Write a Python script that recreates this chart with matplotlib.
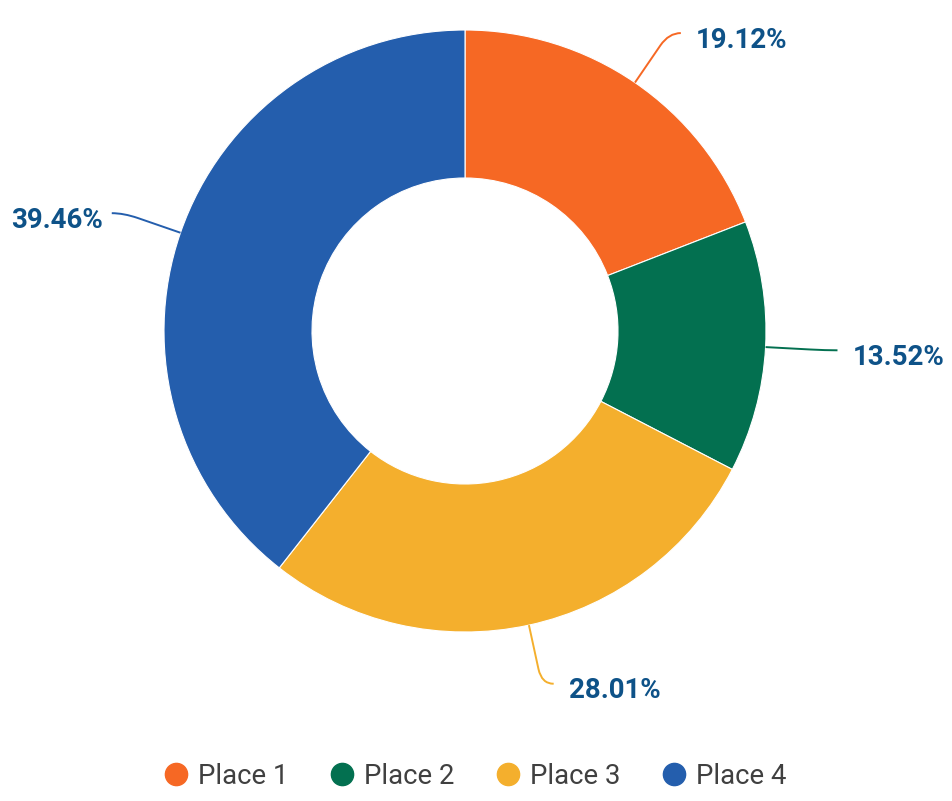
import numpy as np
import matplotlib
matplotlib.use("Agg")
import matplotlib.pyplot as plt
from matplotlib.path import Path
from matplotlib.patches import PathPatch
from matplotlib.lines import Line2D

categories = ["Place 1", "Place 2", "Place 3", "Place 4"]
values = [19.12, 13.52, 28.01, 39.46]
labels = ["19.12%", "13.52%", "28.01%", "39.46%"]
colors = ["#F66824", "#037050", "#F4AF2D", "#245EAD"]

W, H = 952, 801
fig = plt.figure(figsize=(W / 100, H / 100), dpi=100)
ax = fig.add_axes([0, 0, 1, 1])
ax.set_xlim(0, W)
ax.set_ylim(0, H)
ax.axis("off")

cx, cy = 465, H - 331
R, r = 301, 153
wedges, _ = ax.pie(values, radius=R, center=(cx, cy), startangle=90,
                   counterclock=False, colors=colors,
                   wedgeprops=dict(width=R - r, edgecolor="white", linewidth=0.8))
ax.set_xlim(0, W)
ax.set_ylim(0, H)
ax.set_aspect("equal")

label_color = "#0E5288"
L, h = 60, 12
for w, lab, col in zip(wedges, labels, colors):
    ang = np.deg2rad((w.theta1 + w.theta2) / 2)
    d = np.array([np.cos(ang), np.sin(ang)])
    p0 = np.array([cx, cy]) + R * d
    pm = p0 + L * d
    side = 1 if d[0] >= 0 else -1
    p3 = pm + np.array([side * h, 0])
    a = p0 + 0.75 * (pm - p0)
    verts = [p0, a, pm, p3]
    codes = [Path.MOVETO, Path.LINETO, Path.CURVE3, Path.CURVE3]
    ax.add_patch(PathPatch(Path(verts, codes), fill=False, edgecolor=col, lw=1.4))
    gap = 15 if side > 0 else 9
    ax.text(p3[0] + side * gap, p3[1] - 7, lab, ha="left" if side > 0 else "right",
            va="center", fontsize=19.9, fontweight="bold", family="Roboto",
            color=label_color)

handles = [Line2D([], [], marker="o", ls="", markersize=16, color=c) for c in colors]
fig.legend(handles, categories, loc="center", bbox_to_anchor=(0.5, 1 - 776 / H),
           ncol=4, frameon=False, handletextpad=0.4, columnspacing=1.55,
           prop=dict(family="Roboto", size=19.8), labelcolor="#404040",
           handlelength=0.8)

fig.savefig("out.png", dpi=100)
